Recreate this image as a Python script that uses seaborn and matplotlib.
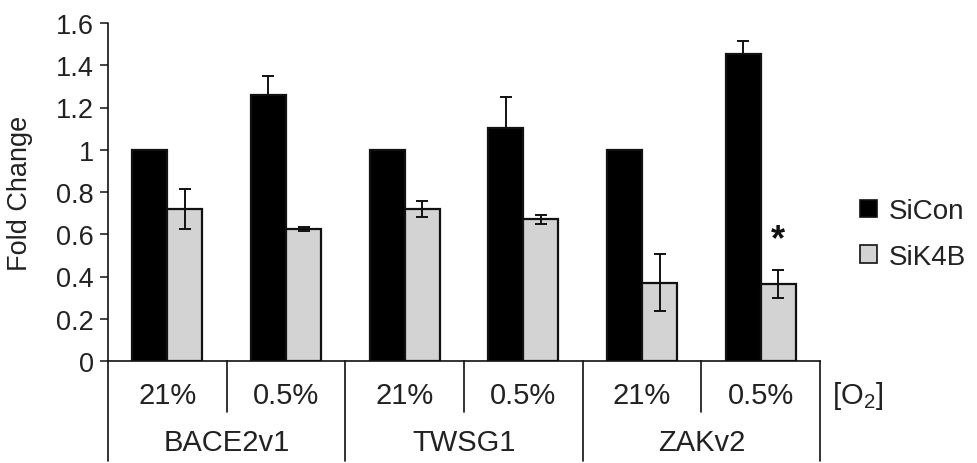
import matplotlib
matplotlib.use("Agg")
import matplotlib.pyplot as plt
from matplotlib.patches import Patch
import seaborn as sns
import pandas as pd
import numpy as np

genes = ["BACE2v1", "TWSG1", "ZAKv2"]
oxygen = ["21%", "0.5%", "21%", "0.5%", "21%", "0.5%"]
series = ["SiCon", "SiK4B"]
sicon = [1.0, 1.26, 1.0, 1.105, 1.0, 1.455]
sicon_err = [0.0, 0.09, 0.0, 0.145, 0.0, 0.06]
sik4b = [0.72, 0.625, 0.72, 0.67, 0.37, 0.365]
sik4b_err = [0.095, 0.008, 0.037, 0.02, 0.135, 0.065]
yticks = [0, 0.2, 0.4, 0.6, 0.8, 1, 1.2, 1.4, 1.6]
ytick_labels = ["0", "0.2", "0.4", "0.6", "0.8", "1", "1.2", "1.4", "1.6"]

sns.set_theme(style="white")
plt.rcParams["font.family"] = ["Liberation Sans", "DejaVu Sans"]
plt.rcParams["mathtext.fontset"] = "custom"
plt.rcParams["mathtext.rm"] = "Liberation Sans"
plt.rcParams["mathtext.default"] = "rm"

keys = [f"{g}_{o}" for g in genes for o in ["21%", "0.5%"]]
df = pd.DataFrame({
    "key": keys * 2,
    "series": ["SiCon"] * 6 + ["SiK4B"] * 6,
    "value": sicon + sik4b,
})

W, H = 977, 464
fig = plt.figure(figsize=(W / 100, H / 100), dpi=100)
x0, x1, ytop, ybot = 108, 820, 24, 362
ax = fig.add_axes([x0 / W, (H - ybot) / H, (x1 - x0) / W, (ybot - ytop) / H])

colors = {"SiCon": "#000000", "SiK4B": "#d3d3d3"}
sns.barplot(data=df, x="key", y="value", hue="series", order=keys,
            hue_order=series, palette=colors, width=0.59, ax=ax,
            edgecolor="#111111", linewidth=1.6, legend=False, errorbar=None,
            saturation=1)

# error bars
patches = ax.patches
n = len(keys)
for i in range(n):
    p = patches[i]
    cx = p.get_x() + p.get_width() / 2
    if sicon_err[i] > 0:
        ax.errorbar(cx, sicon[i], yerr=[[0], [sicon_err[i]]], fmt="none",
                    ecolor="#111111", elinewidth=1.4, capsize=4.5, capthick=1.4)
for i in range(n):
    p = patches[n + i]
    cx = p.get_x() + p.get_width() / 2
    ax.errorbar(cx, sik4b[i], yerr=sik4b_err[i], fmt="none",
                ecolor="#111111", elinewidth=1.4, capsize=4.5, capthick=1.4)

# asterisk
p = patches[n + 5]
ax.text(p.get_x() + p.get_width() / 2, 0.49, "*", ha="center", va="bottom",
        fontsize=26, fontweight="bold", color="#111111")

ax.set_xlim(-0.5, 5.5)
ax.set_ylim(0, 1.6)
ax.set_yticks(yticks)
ax.set_yticklabels(ytick_labels)
ax.set_xticks([])
ax.set_xlabel("")
ax.set_ylabel("Fold Change", fontsize=19.5, color="#222222")
ax.yaxis.set_label_coords(-0.105, 0.5)
ax.tick_params(axis="y", which="both", left=True, direction="out", length=6,
               width=1.1, labelsize=19.5, pad=4, labelcolor="#222222", color="#111111")
for s in ["top", "right"]:
    ax.spines[s].set_visible(False)
ax.spines["left"].set_visible(False)
ax.spines["bottom"].set_color("#111111")
ax.spines["bottom"].set_linewidth(1.2)

px = 1.0 / (ybot - ytop)
lowest = -(462 - ybot) * px
mid = -(413 - ybot) * px
trans = ax.get_xaxis_transform()
lkw = dict(color="#111111", lw=1.2, clip_on=False, transform=trans)
ax.plot([-0.5, -0.5], [1.0, lowest], **lkw)
ax.plot([5.5, 5.5], [0, lowest], **lkw)
for xb in [1.5, 3.5]:
    ax.plot([xb, xb], [0, lowest], **lkw)
for xb in [0.5, 2.5, 4.5]:
    ax.plot([xb, xb], [0, mid], **lkw)

for i, o in enumerate(oxygen):
    ax.text(i, -(396 - ybot) * px, o, transform=trans, ha="center", va="center",
            fontsize=21, color="#222222")
for j, g in enumerate(genes):
    ax.text(2 * j + 0.5, -(443 - ybot) * px, g, transform=trans, ha="center",
            va="center", fontsize=21, color="#222222")
ax.text(5.6, -(396 - ybot) * px, "[O$_2$]", transform=trans, ha="left",
        va="center", fontsize=21, color="#222222")

handles = [Patch(facecolor=colors[s], edgecolor="#111111", linewidth=1.2, label=s)
           for s in series]
fig.legend(handles=handles, loc="center left", bbox_to_anchor=(835 / W, (H - 235) / H),
           frameon=False, fontsize=20, handlelength=0.6, handleheight=0.6,
           handletextpad=0.45, labelspacing=0.7, labelcolor="#222222")

fig.savefig("out.png", dpi=100)
